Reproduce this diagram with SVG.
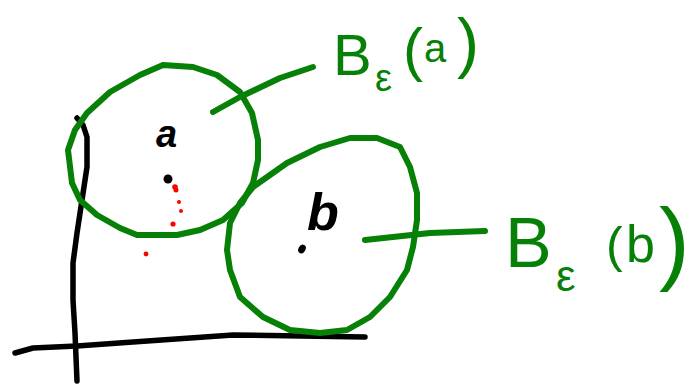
<svg xmlns="http://www.w3.org/2000/svg" width="689" height="386" viewBox="0 0 689 386">
  <style>
    .ink { fill: none; stroke-linecap: round; stroke-linejoin: round; }
    .axis { stroke: #000; stroke-width: 5.5; }
    .ball { stroke: #068006; stroke-width: 6; }
    .lbl { fill: #068006; font-family: "Liberation Sans", "DejaVu Sans", sans-serif; }
    .pt { fill: #000; font-family: "Liberation Sans", "DejaVu Sans", sans-serif; font-style: italic; font-weight: bold; }
    .red { fill: #ff0000; }
  </style>

  <!-- coordinate axes -->
  <g id="axes" class="ink axis">
    <path d="M77,118 L83,125 L87,137 L87,167 L82,200 L77,233 L73,263 L73,300 L75,333 L77,381"/>
    <path d="M15,353 L33,348 L77,346 L133,342 L233,335 L365,337"/>
  </g>

  <!-- ball around a -->
  <g id="ball-a">
    <path class="ink ball" d="M140,75 L163,65 L193,67 L217,75 L240,92 L252,113 L258,140 L258,160 L253,183 L242,203 L223,220 L200,230 L177,235 L137,235 L120,228 L97,215 L80,200 L72,183 L68,150 L75,130 L87,113 L110,92 Z"/>
    <text class="pt" x="156" y="147" font-size="38">a</text>
    <circle cx="168" cy="179" r="4.5" fill="#000"/>
    <circle class="red" cx="175" cy="187" r="2.8"/>
    <circle class="red" cx="176" cy="190" r="2.5"/>
    <circle class="red" cx="179" cy="202" r="2"/>
    <circle class="red" cx="181" cy="211" r="2"/>
    <circle class="red" cx="173" cy="224" r="2.6"/>
    <circle class="red" cx="146" cy="254" r="2.4"/>
  </g>

  <!-- ball around b -->
  <g id="ball-b">
    <path class="ink ball" d="M253,187 L287,163 L320,147 L350,138 L377,138 L400,147 L410,167 L417,193 L417,220 L413,247 L407,270 L390,297 L370,317 L347,330 L320,333 L290,330 L263,317 L240,297 L230,270 L227,250 L230,223 L240,203 Z"/>
    <text class="pt" x="307" y="230" font-size="52">b</text>
    <ellipse cx="302" cy="249" rx="3.5" ry="4.5" transform="rotate(30 302 249)" fill="#000"/>
  </g>

  <!-- leader lines to the labels -->
  <g id="connectors" class="ink ball">
    <path d="M213,112 L240,97 L280,78 L313,67"/>
    <path d="M365,240 L430,233 L485,231"/>
  </g>

  <!-- labels -->
  <g id="label-a">
    <text class="lbl"><tspan x="333" y="75" font-size="58">B</tspan><tspan x="375" y="91" font-size="38">ε</tspan><tspan x="403" y="70" font-size="60">(</tspan><tspan x="424" y="62" font-size="40">a</tspan><tspan x="457" y="65" font-size="66">)</tspan></text>
  </g>
  <g id="label-b">
    <text class="lbl"><tspan x="505" y="267" font-size="70">B</tspan><tspan x="556" y="291" font-size="44">ε</tspan><tspan x="606" y="262" font-size="50">(</tspan><tspan x="626" y="262" font-size="52">b</tspan><tspan x="659" y="273" font-size="92">)</tspan></text>
  </g>
</svg>
